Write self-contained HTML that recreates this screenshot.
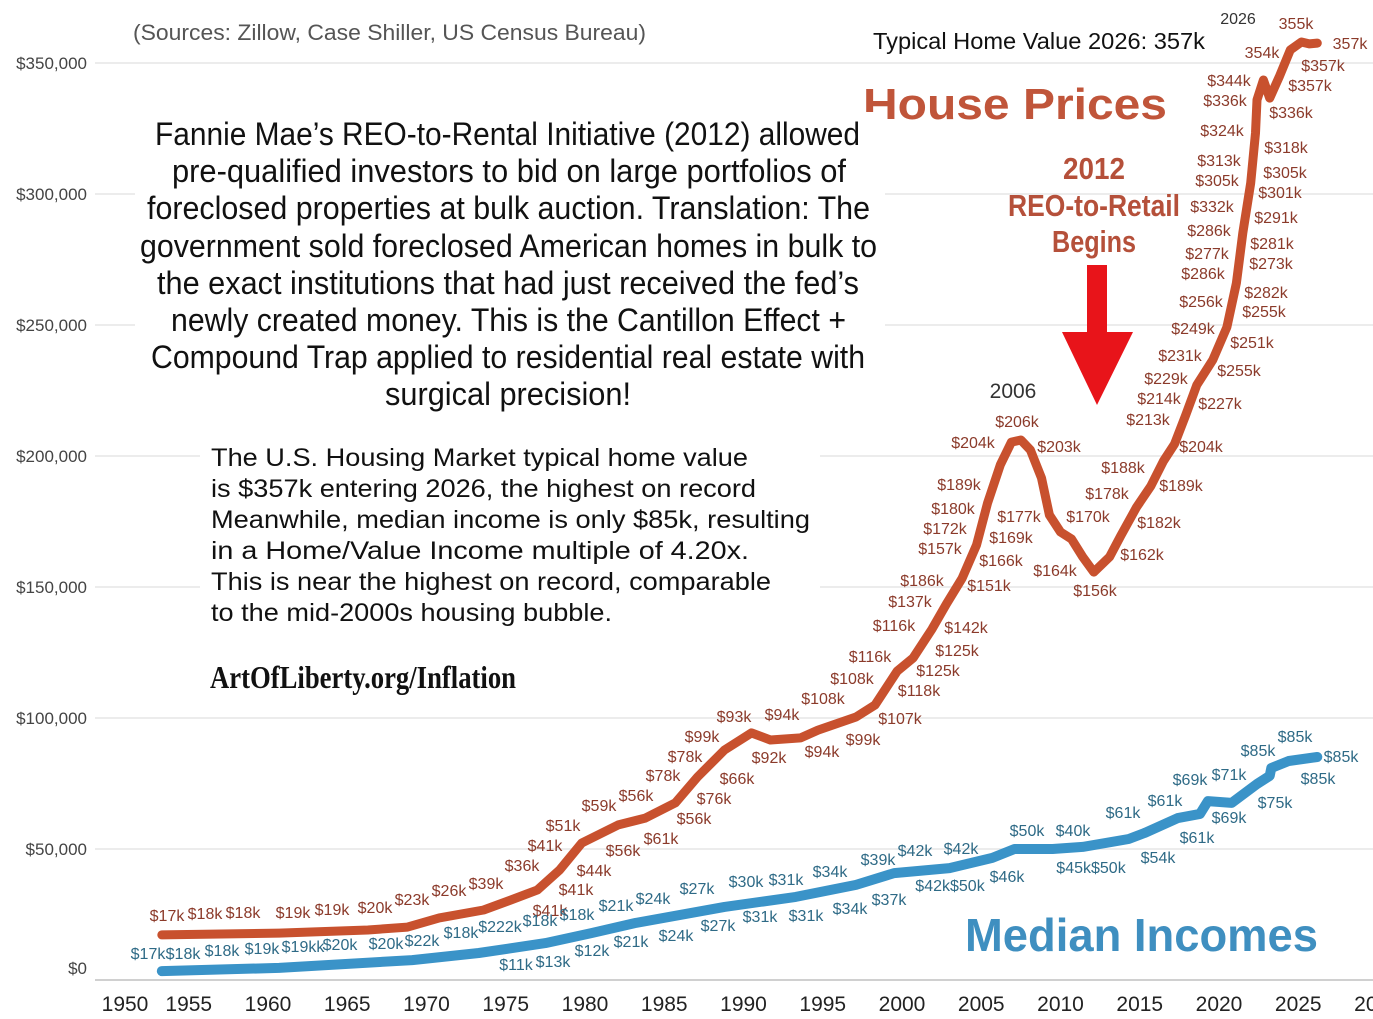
<!DOCTYPE html>
<html><head><meta charset="utf-8"><style>
html,body{margin:0;padding:0;background:#fff;}
svg{display:block;font-family:"Liberation Sans",Arial,sans-serif;}
</style></head><body>
<svg id="chart" width="1373" height="1019" viewBox="0 0 1373 1019" xmlns="http://www.w3.org/2000/svg">
<rect width="1373" height="1019" fill="#fff"/>
<g id="grid"></g>
<g id="yaxis"></g>
<g id="xaxis"></g>
<g id="series"></g>
<g id="labels"></g>

<text x="133" y="40" font-size="22" fill="#555" textLength="513" lengthAdjust="spacingAndGlyphs">(Sources: Zillow, Case Shiller, US Census Bureau)</text>
<text x="873" y="49" font-size="23" fill="#111" textLength="332" lengthAdjust="spacingAndGlyphs">Typical Home Value 2026: 357k</text>
<text x="863" y="119" font-size="44" font-weight="bold" fill="#c0553a" textLength="304" lengthAdjust="spacingAndGlyphs">House Prices</text>
<g font-weight="bold" fill="#b5503a" font-size="31" text-anchor="middle">
<text x="1094" y="179" textLength="62" lengthAdjust="spacingAndGlyphs">2012</text>
<text x="1094" y="216" textLength="172" lengthAdjust="spacingAndGlyphs">REO-to-Retail</text>
<text x="1094" y="252" textLength="84" lengthAdjust="spacingAndGlyphs">Begins</text>
</g>
<polygon points="1087,265 1107,265 1107,332 1133,332 1097,405 1062,332 1087,332" fill="#e8141a"/>

<g font-size="32" fill="#111">
<rect x="135" y="112" width="750" height="302" fill="#fff"/>
<text x="155" y="145" textLength="705" lengthAdjust="spacingAndGlyphs">Fannie Mae’s REO-to-Rental Initiative (2012) allowed</text>
<text x="172" y="182" textLength="674" lengthAdjust="spacingAndGlyphs">pre-qualified investors to bid on large portfolios of</text>
<text x="147" y="219" textLength="723" lengthAdjust="spacingAndGlyphs">foreclosed properties at bulk auction. Translation: The</text>
<text x="140" y="257" textLength="737" lengthAdjust="spacingAndGlyphs">government sold foreclosed American homes in bulk to</text>
<text x="157" y="294" textLength="702" lengthAdjust="spacingAndGlyphs">the exact institutions that had just received the fed’s</text>
<text x="171" y="331" textLength="675" lengthAdjust="spacingAndGlyphs">newly created money. This is the Cantillon Effect +</text>
<text x="151" y="368" textLength="714" lengthAdjust="spacingAndGlyphs">Compound Trap applied to residential real estate with</text>
<text x="385" y="405" textLength="246" lengthAdjust="spacingAndGlyphs">surgical precision!</text>
</g>
<g font-size="25" fill="#111">
<rect x="200" y="438" width="620" height="190" fill="#fff"/>
<text x="211" y="466" textLength="537" lengthAdjust="spacingAndGlyphs">The U.S. Housing Market typical home value</text>
<text x="211" y="497" textLength="545" lengthAdjust="spacingAndGlyphs">is $357k entering 2026, the highest on record</text>
<text x="211" y="528" textLength="599" lengthAdjust="spacingAndGlyphs">Meanwhile, median income is only $85k, resulting</text>
<text x="211" y="559" textLength="538" lengthAdjust="spacingAndGlyphs">in a Home/Value Income multiple of 4.20x.</text>
<text x="211" y="590" textLength="560" lengthAdjust="spacingAndGlyphs">This is near the highest on record, comparable</text>
<text x="211" y="621" textLength="401" lengthAdjust="spacingAndGlyphs">to the mid-2000s housing bubble.</text>
</g>
<text x="210" y="688" font-family="'Liberation Serif',serif" font-weight="bold" font-size="32" fill="#111" textLength="306" lengthAdjust="spacingAndGlyphs">ArtOfLiberty.org/Inflation</text>
<text x="965" y="951" font-size="46" font-weight="bold" fill="#3f8fc0" textLength="353" lengthAdjust="spacingAndGlyphs">Median Incomes</text>
</svg>
<script>
const houseYears=[1953.3,1960.7,1966.3,1968.8,1970.8,1973.6,1975.3,1977.0,1978.4,1979.8,1982.1,1983.8,1985.7,1987.1,1988.8,1990.5,1991.7,1993.6,1994.7,1997.1,1998.3,1999.7,2000.7,2001.9,2002.8,2003.8,2004.7,2005.4,2006.2,2006.9,2007.5,2008.1,2008.8,2009.3,2010.0,2010.7,2011.4,2012.1,2013.1,2013.8,2014.8,2015.7,2016.5,2017.2,2017.9,2018.6,2019.6,2020.5,2021.1,2021.5,2022.0,2022.3,2022.4,2022.8,2023.2,2023.8,2024.5,2025.2,2025.7,2026.2];
const houseValues=[17.2,17.9,19.1,20.2,23.7,26.7,30.5,34.4,42.0,52.3,59.2,61.8,67.6,77.5,87.8,94.3,91.6,92.4,95.4,100.4,105.0,117.9,122.9,134.0,143.5,153.4,166.0,182.1,196.6,205.3,206.1,202.3,191.6,177.5,171.0,168.3,161.5,155.7,161.5,169.5,180.5,188.5,198.1,204.6,215.6,227.1,236.6,249.2,266.0,285.1,304.2,323.3,335.9,343.5,336.6,344.7,355.0,358.0,357.3,357.6];
const incomeYears=[1953.3,1960.7,1969.1,1973.3,1977.5,1980.4,1983.2,1988.8,1993.3,1997.1,1999.5,2003.0,2005.7,2007.1,2009.5,2011.4,2014.3,2015.3,2017.4,2018.8,2019.3,2020.8,2022.4,2023.2,2023.3,2024.4,2026.2];
const incomeValues=[3.4,4.6,7.6,10.3,14.1,17.9,21.8,27.9,31.7,36.3,40.8,42.7,46.6,50.0,50.0,50.8,53.8,56.1,61.8,63.4,68.3,67.6,74.8,77.9,80.9,83.6,85.1];
const yTicks=[0,50000,100000,150000,200000,250000,300000,350000];
const yTickLabels=["$0","$50,000","$100,000","$150,000","$200,000","$250,000","$300,000","$350,000"];
const xTicks=[1950,1955,1960,1965,1970,1975,1980,1985,1990,1995,2000,2005,2010,2015,2020,2025,2030];
const xTickLabels=["1950","1955","1960","1965","1970","1975","1980","1985","1990","1995","2000","2005","2010","2015","2020","2025","2030"];
const houseLabels=[["$17k",167,921],["$18k",205,919],["$18k",243,918],["$19k",293,918],["$19k",332,915],["$20k",375,913],["$23k",412,905],["$26k",449,896],["$39k",486,889],["$36k",522,871],["$41k",545,851],["$51k",563,831],["$59k",599,811],["$56k",636,801],["$78k",663,781],["$78k",685,762],["$99k",702,742],["$93k",734,722],["$94k",782,720],["$92k",769,763],["$66k",737,784],["$76k",714,804],["$56k",694,824],["$61k",661,844],["$56k",623,856],["$44k",594,876],["$41k",576,895],["$41k",550,916],["$108k",823,704],["$108k",852,684],["$116k",870,662],["$116k",894,631],["$137k",910,607],["$186k",922,586],["$157k",940,554],["$172k",945,534],["$180k",953,514],["$189k",959,490],["$204k",973,448],["$206k",1017,427],["$203k",1059,452],["$177k",1019,522],["$169k",1011,543],["$166k",1001,566],["$151k",989,591],["$142k",966,633],["$125k",957,656],["$125k",938,676],["$118k",919,696],["$107k",900,724],["$99k",863,745],["$94k",822,757],["$164k",1055,576],["$156k",1095,596],["$170k",1088,522],["$178k",1107,499],["$188k",1123,473],["$162k",1142,560],["$182k",1159,528],["$189k",1181,491],["$204k",1201,452],["$213k",1148,425],["$214k",1159,404],["$229k",1166,384],["$231k",1180,361],["$227k",1220,409],["$255k",1239,376],["$251k",1252,348],["$249k",1193,334],["$256k",1201,307],["$255k",1264,317],["$282k",1266,298],["$286k",1203,279],["$273k",1271,269],["$277k",1207,259],["$281k",1272,249],["$286k",1209,236],["$291k",1276,223],["$332k",1212,212],["$301k",1280,198],["$305k",1217,186],["$305k",1285,178],["$313k",1219,166],["$318k",1286,153],["$324k",1222,136],["$336k",1291,118],["$336k",1225,106],["$344k",1229,86],["$357k",1310,91],["$357k",1323,71],["354k",1262,58],["355k",1296,29],["357k",1350,49],["2026",1238,24],["2006",1013,398]];
const incomeLabels=[["$17k",148,959],["$18k",183,959],["$18k",222,956],["$19k",262,954],["$19kk",303,952],["$20k",340,950],["$20k",386,949],["$22k",422,946],["$18k",461,938],["$222k",500,932],["$18k",540,926],["$18k",577,920],["$21k",616,911],["$24k",653,904],["$27k",697,894],["$30k",746,887],["$31k",786,885],["$34k",830,877],["$39k",878,865],["$42k",915,856],["$42k",961,854],["$50k",1027,836],["$40k",1073,836],["$61k",1123,818],["$61k",1165,806],["$69k",1190,785],["$71k",1229,780],["$85k",1258,756],["$85k",1295,742],["$85k",1341,762],["$85k",1318,784],["$75k",1275,808],["$69k",1229,823],["$61k",1197,843],["$54k",1158,863],["$45k$50k",1091,873],["$46k",1007,882],["$42k$50k",950,891],["$37k",889,905],["$34k",850,914],["$31k",806,921],["$31k",760,922],["$27k",718,931],["$24k",676,941],["$21k",631,947],["$12k",592,956],["$13k",553,967],["$11k",516,970]];

const NS="http://www.w3.org/2000/svg";
function xScale(yr){return 268+(yr-1960)*15.85;}
function yScale(v){return 980-v/50000*131;}
function mk(tag,attrs,parent){const e=document.createElementNS(NS,tag);for(const k in attrs)e.setAttribute(k,attrs[k]);parent.appendChild(e);return e;}
const grid=document.getElementById('grid'),ya=document.getElementById('yaxis'),xa=document.getElementById('xaxis'),ser=document.getElementById('series'),lab=document.getElementById('labels');
yTicks.forEach((v,i)=>{
  const l=mk('line',{x1:95,x2:1373,y1:yScale(v),y2:yScale(v),stroke:i===0?'#d0d0d0':'#e6e6e6','stroke-width':i===0?2:1.5},grid);
  
  
  const t=mk('text',{x:87,y:Math.min(yScale(v)+6,974),'text-anchor':'end','font-size':17,fill:'#444'},ya);
  t.textContent=yTickLabels[i];
  
  
});
xTicks.forEach((yr,i)=>{
  let x=xScale(yr); if(yr===1950)x=125;
  const t=mk('text',{x:x,y:1011,'text-anchor':'middle','font-size':21,fill:'#222'},xa);
  t.textContent=xTickLabels[i];
  
  
});
function pathFor(xs,vs){return xs.map((yr,i)=>(i?'L':'M')+xScale(yr).toFixed(1)+' '+yScale(vs[i]*1000).toFixed(1)).join(' ');}
const pi=mk('path',{d:pathFor(incomeYears,incomeValues),fill:'none',stroke:'#3a93c8','stroke-width':10,'stroke-linejoin':'round','stroke-linecap':'round'},ser);


const ph=mk('path',{d:pathFor(houseYears,houseValues),fill:'none',stroke:'#c8512e','stroke-width':9,'stroke-linejoin':'round','stroke-linecap':'round'},ser);


houseLabels.forEach(a=>{
  const t=mk('text',{x:a[1],y:a[2],'text-anchor':'middle','font-size':16,fill:a[0]==='2026'||a[0]==='2006'?'#333':'#8b3a2a'},lab);
  if(a[0]==='2006')t.setAttribute('font-size',21);
  t.textContent=a[0];
  
  
});
incomeLabels.forEach(a=>{
  const t=mk('text',{x:a[1],y:a[2],'text-anchor':'middle','font-size':16,fill:'#2e6a86'},lab);
  t.textContent=a[0];
  
  
});
</script>
</body></html>
